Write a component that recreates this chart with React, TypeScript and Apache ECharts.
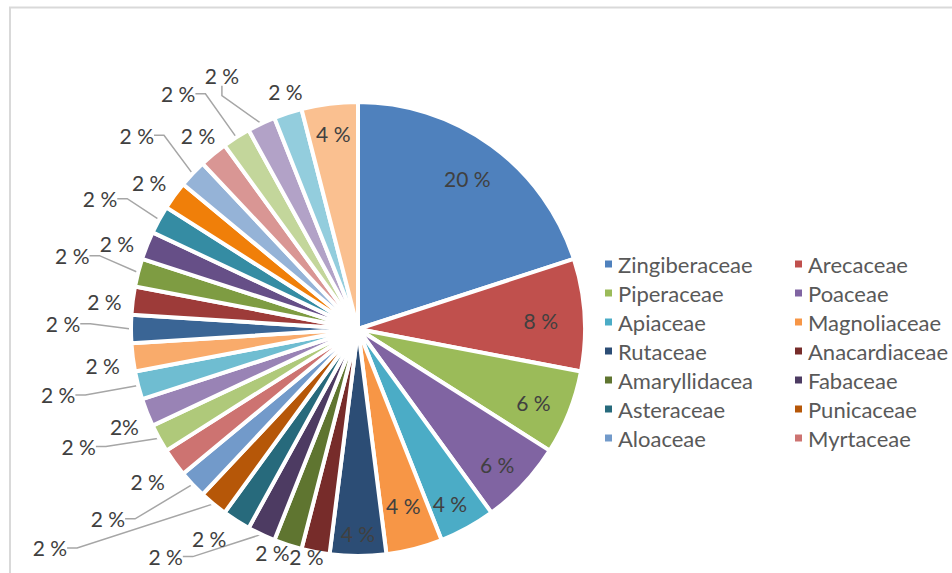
import React, { useEffect, useRef } from "react";
import * as echarts from "echarts";

// Families (legend shows the first 14 only, as in the reference)
const families = [
  "Zingiberaceae", "Arecaceae", "Piperaceae", "Poaceae", "Apiaceae", "Magnoliaceae",
  "Rutaceae", "Anacardiaceae", "Amaryllidacea", "Fabaceae", "Asteraceae", "Punicaceae",
  "Aloaceae", "Myrtaceae", "Lamiaceae", "Euphorbiaceae", "Solanaceae", "Moraceae",
  "Malvaceae", "Lauraceae", "Acanthaceae", "Cucurbitaceae", "Apocynaceae", "Rubiaceae",
  "Meliaceae", "Annonaceae", "Brassicaceae", "Myristicaceae", "Oxalidaceae", "Theaceae",
];

// Number of species per family (50 in total -> 20 %, 8 %, 6 %, 4 %, 2 %)
const counts = [
  10, 4, 3, 3, 2, 2,
  2, 1, 1, 1, 1, 1,
  1, 1, 1, 1, 1, 1,
  1, 1, 1, 1, 1, 1,
  1, 1, 1, 1, 1, 2,
];

const legendCount = 14;

// Excel 2010 palette
const colors = [
  "#4F81BD", "#C0504D", "#9BBB59", "#8064A2", "#4BACC6", "#F79646",
  "#2C4D75", "#772C2A", "#5F7530", "#4D3B62", "#276A7C", "#B65708",
  "#729ACA", "#CD7371", "#AFC97A", "#9983B5", "#6FBDD1", "#F9AB6B",
  "#3A6595", "#9D3B39", "#7E9C42", "#664F87", "#358CA3", "#F07F09",
  "#95B3D7", "#D99694", "#C3D69B", "#B2A2C7", "#93CDDD", "#FAC090",
];

// Label placement (style): distance from centre (px) and turn from slice middle (deg)
const labelRadius = [
  186, 183, 190, 194, 197, 182,
  204, 233, 239, 298, 257, 378,
  314, 260, 303, 253, 307, 258,
  295, 255, 295, 256, 289, 255,
  294, 251, 296, 288, 248, 197,
];
const labelTurn = [
  0, 1, 1, 1, 1, 0,
  0, 2, 3, 15, 3, 15,
  6, 0, 6, -1, 2, -1,
  1, -1, 0, -2, -2, -1,
  -2, 0, -5, -3, 1, 0,
];
// labels joined to their slice by a leader line
const leader = [
  false, false, false, false, false, false,
  false, false, false, true, false, true,
  true, false, true, false, true, false,
  true, false, true, false, true, false,
  true, false, true, true, false, false,
];
// label written without the space
const noSpace = [15];

const CX = 358;
const CY = 329;
const R = 227;
const FONT = "Lato, 'Open Sans', sans-serif";

export default function App() {
  const ref = useRef<HTMLDivElement>(null);

  useEffect(() => {
    if (!ref.current) return;
    const chart = echarts.init(ref.current, null, { renderer: "svg" });

    const total = counts.reduce((a, b) => a + b, 0);
    let acc = 0;
    const mids = counts.map((v) => {
      const m = ((acc + v / 2) / total) * 360;
      acc += v;
      return m;
    });

    const data = families.map((name, i) => ({
      name,
      value: counts[i],
      itemStyle: { color: colors[i] },
      label: noSpace.includes(i) ? { formatter: "{d}%" } : undefined,
      labelLine: { show: leader[i] },
    }));

    const legendText = {
      fontSize: 22,
      color: "#595959",
      fontFamily: FONT,
    };
    const legendNames = families.slice(0, legendCount);
    const legendBase = {
      orient: "vertical",
      top: 253,
      padding: 0,
      icon: "rect",
      itemWidth: 9,
      itemHeight: 9,
      itemGap: 7,
      selectedMode: false,
      textStyle: legendText,
    };

    chart.setOption({
      animation: false,
      backgroundColor: "#ffffff",
      graphic: [
        {
          type: "rect",
          silent: true,
          z: -10,
          shape: { x: 10, y: 7.5, width: 1200, height: 900 },
          style: { fill: "none", stroke: "#d9d9d9", lineWidth: 2 },
        },
      ],
      legend: [
        {
          ...legendBase,
          data: legendNames.filter((_, i) => i % 2 === 0),
          left: 603,
        },
        {
          ...legendBase,
          data: legendNames.filter((_, i) => i % 2 === 1),
          left: 793,
        },
      ],
      series: [
        {
          type: "pie",
          center: [CX, CY],
          radius: R,
          startAngle: 90,
          clockwise: true,
          avoidLabelOverlap: false,
          silent: true,
          data,
          itemStyle: { borderColor: "#ffffff", borderWidth: 4 },
          label: {
            show: true,
            position: "outside",
            formatter: "{d} %",
            color: "#404040",
            fontSize: 21,
            fontFamily: FONT,
          },
          labelLine: {
            show: false,
            length: 10,
            length2: 10,
            smooth: false,
            lineStyle: { color: "#a6a6a6", width: 1.5 },
          },
          labelLayout: (p: any) => {
            const i = p.dataIndex;
            const a = ((mids[i] + labelTurn[i]) * Math.PI) / 180;
            const d = labelRadius[i];
            return {
              x: CX + d * Math.sin(a),
              y: CY - d * Math.cos(a),
              align: "center",
              verticalAlign: "middle",
            };
          },
        },
      ],
    });

    return () => chart.dispose();
  }, []);

  return (
    <div
      ref={ref}
      style={{ position: "absolute", left: 0, top: 0, width: 952, height: 573 }}
    />
  );
}
